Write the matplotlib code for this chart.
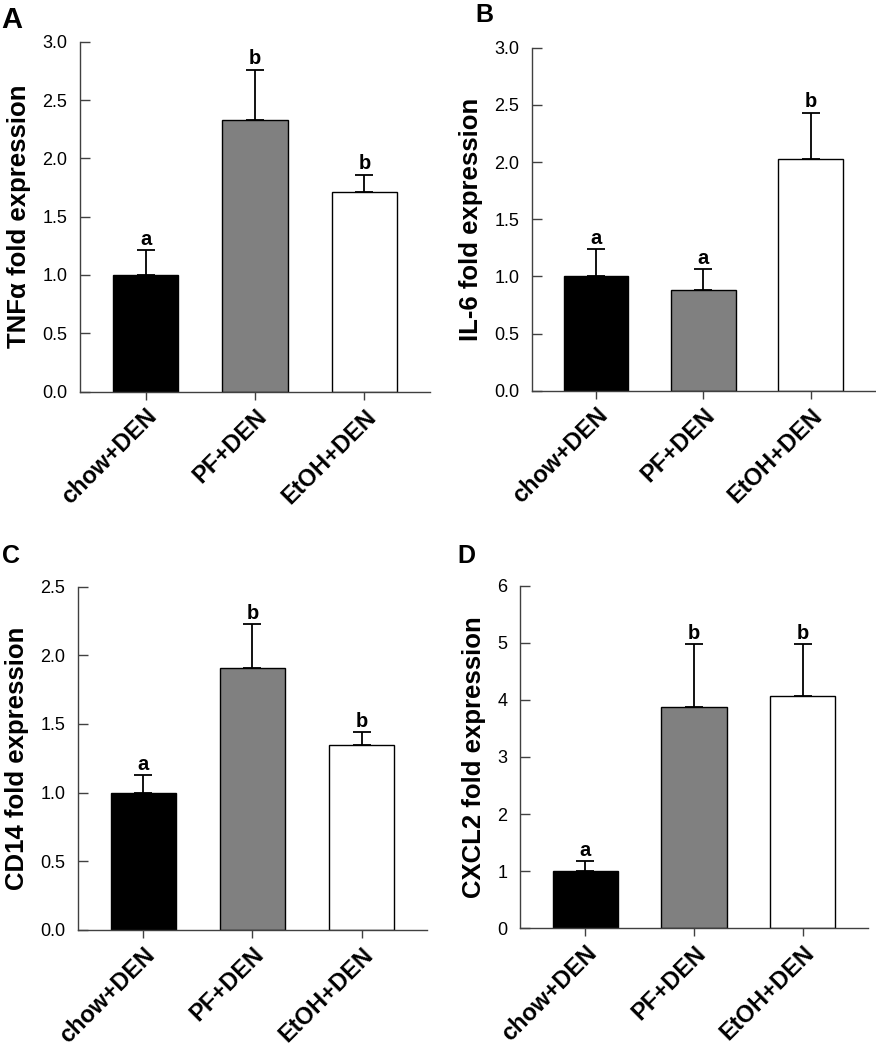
import matplotlib
matplotlib.use("Agg")
import matplotlib.pyplot as plt
import matplotlib.transforms as mtransforms

plt.rcParams["font.family"] = ["Liberation Sans", "DejaVu Sans"]

GROUPS = ["chow+DEN", "PF+DEN", "EtOH+DEN"]
BAR_COLORS = ["black", "#808080", "white"]

TNF_MEAN = [1.0, 2.33, 1.71]
TNF_ERR = [0.21, 0.43, 0.15]
TNF_SIG = ["a", "b", "b"]

IL6_MEAN = [1.0, 0.88, 2.03]
IL6_ERR = [0.24, 0.18, 0.40]
IL6_SIG = ["a", "a", "b"]

CD14_MEAN = [1.0, 1.91, 1.345]
CD14_ERR = [0.125, 0.315, 0.095]
CD14_SIG = ["a", "b", "b"]

CXCL2_MEAN = [1.0, 3.88, 4.06]
CXCL2_ERR = [0.17, 1.10, 0.92]
CXCL2_SIG = ["a", "b", "b"]

AXIS_GRAY = "#404040"

# (y label, means, errors, letters, ylim top, yticks, tick format, axes rect)
PANELS = [
    ("TNF\u03b1 fold expression", TNF_MEAN, TNF_ERR, TNF_SIG, 3.0,
     [0, 0.5, 1.0, 1.5, 2.0, 2.5, 3.0], "{:.1f}", [0.0913, 0.6270, 0.3996, 0.3333]),
    ("IL-6 fold expression", IL6_MEAN, IL6_ERR, IL6_SIG, 3.0,
     [0, 0.5, 1.0, 1.5, 2.0, 2.5, 3.0], "{:.1f}", [0.6070, 0.6279, 0.3919, 0.3267]),
    ("CD14 fold expression", CD14_MEAN, CD14_ERR, CD14_SIG, 2.5,
     [0, 0.5, 1.0, 1.5, 2.0, 2.5], "{:.1f}", [0.0890, 0.1143, 0.3984, 0.3270]),
    ("CXCL2 fold expression", CXCL2_MEAN, CXCL2_ERR, CXCL2_SIG, 6,
     [0, 1, 2, 3, 4, 5, 6], "{:.0f}", [0.5936, 0.1159, 0.3973, 0.3263]),
]

fig = plt.figure(figsize=(8.76, 10.5), dpi=100)

for ylabel, means, errs, sig, ytop, yticks, fmt, rect in PANELS:
    ax = fig.add_axes(rect)
    x = list(range(len(GROUPS)))
    ax.bar(x, means, width=0.6, color=BAR_COLORS, edgecolor="black",
           linewidth=1.0, zorder=2)
    ax.errorbar(x, means, yerr=[[0] * len(errs), errs], fmt="none",
                ecolor="black", elinewidth=1.3, capsize=6.5, capthick=1.3,
                zorder=1)
    for xi, m, e, s in zip(x, means, errs, sig):
        ax.annotate(s, (xi, m + e), xytext=(0, 1), textcoords="offset points",
                    ha="center", va="bottom", fontsize=14.5, fontweight="bold")

    ax.set_xlim(-0.6, 2.6)
    ax.set_ylim(0, ytop)
    ax.set_yticks(yticks)
    ax.set_yticklabels([fmt.format(t) for t in yticks])
    ax.set_xticks(x)
    ax.set_xticklabels(GROUPS, rotation=45, ha="right", va="top",
                       rotation_mode="anchor", fontsize=17, fontweight="bold")
    offset = mtransforms.ScaledTranslation(11 / 72, -6.5 / 72, fig.dpi_scale_trans)
    for lab in ax.get_xticklabels():
        lab.set_transform(lab.get_transform() + offset)

    ax.tick_params(axis="y", direction="in", length=7, width=1.0,
                   color=AXIS_GRAY, labelsize=13, pad=9)
    ax.tick_params(axis="x", direction="out", length=6, width=1.0,
                   color=AXIS_GRAY)
    for side in ["top", "right"]:
        ax.spines[side].set_visible(False)
    for side in ["left", "bottom"]:
        ax.spines[side].set_color(AXIS_GRAY)
        ax.spines[side].set_linewidth(1.0)

    ax.set_ylabel(ylabel, fontsize=18.5, fontweight="bold", labelpad=8)

fig.text(0.002, 0.9733, "A", fontsize=21, fontweight="bold", va="baseline", ha="left")
fig.text(0.5422, 0.979, "B", fontsize=18, fontweight="bold", va="baseline", ha="left")
fig.text(0.002, 0.4638, "C", fontsize=18, fontweight="bold", va="baseline", ha="left")
fig.text(0.5217, 0.4638, "D", fontsize=18, fontweight="bold", va="baseline", ha="left")

fig.savefig("out.png", dpi=100, facecolor="white")
